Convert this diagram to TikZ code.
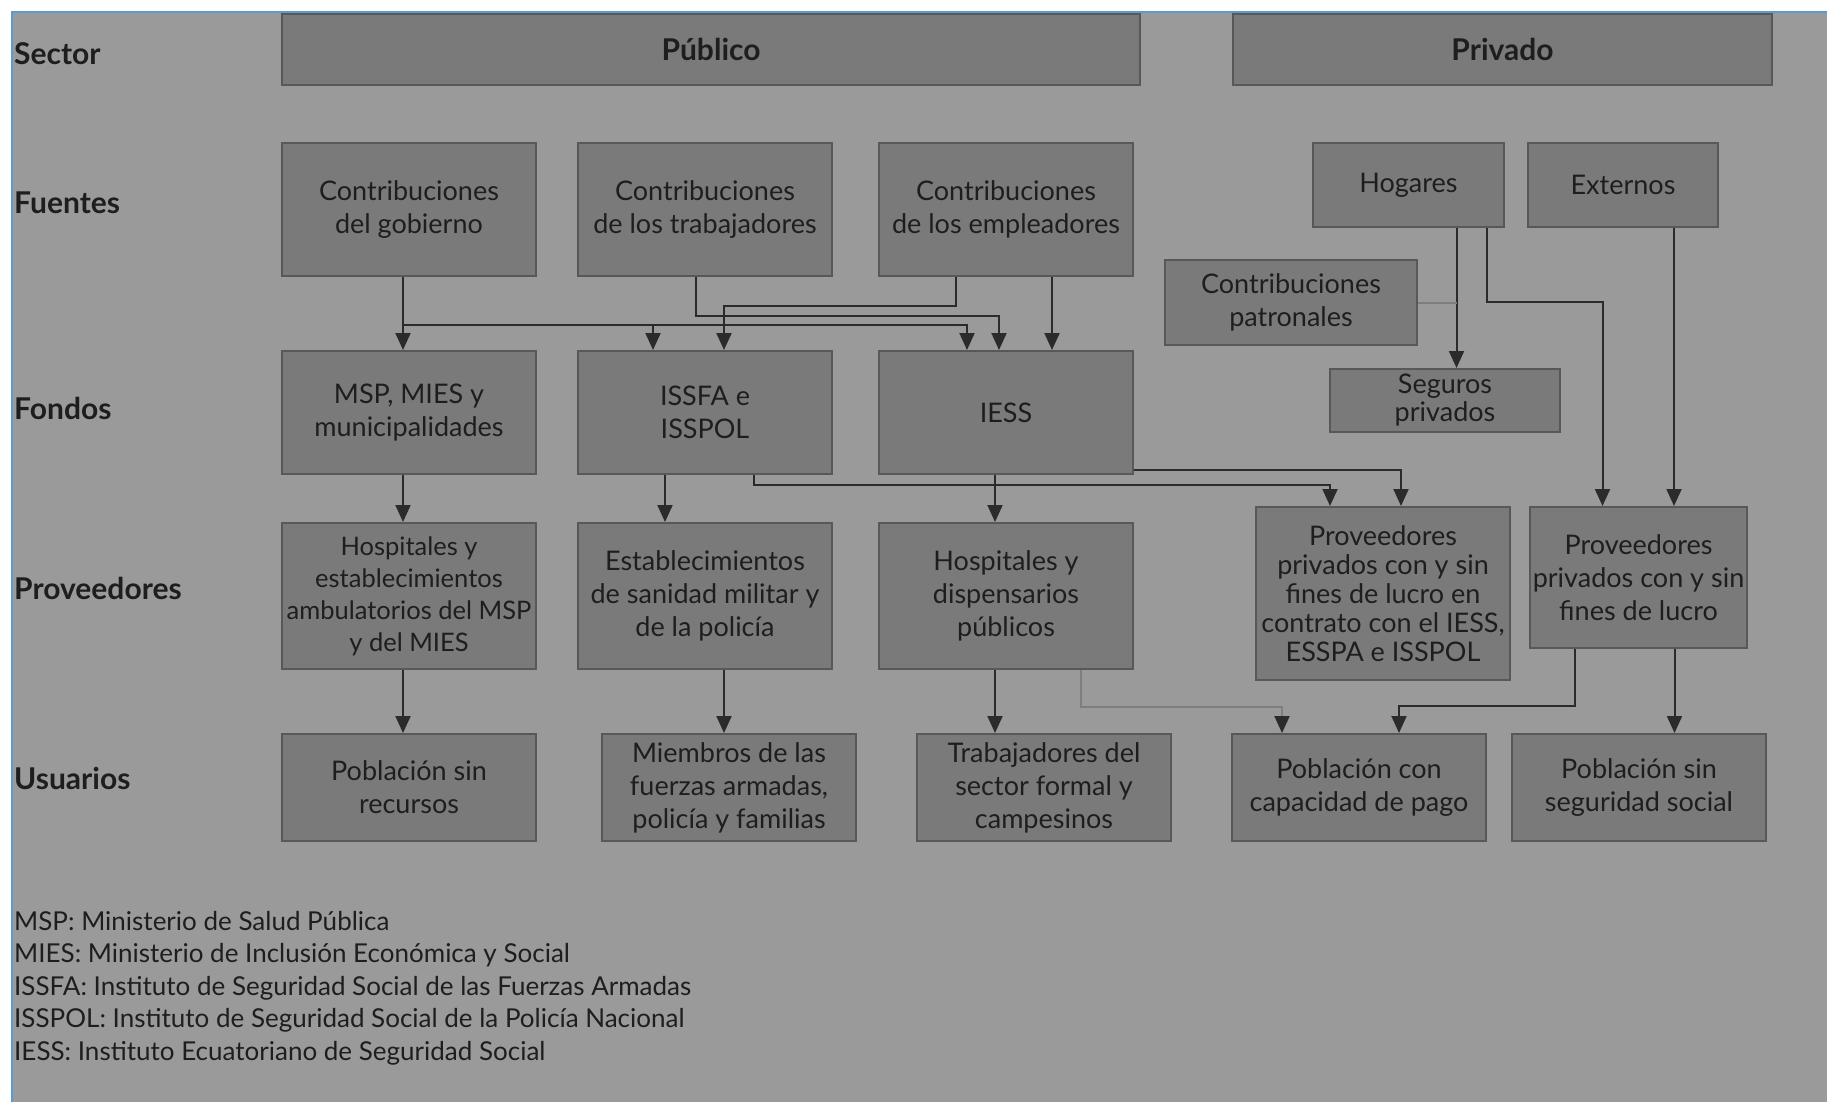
\documentclass[tikz,border=0pt]{standalone}
\usepackage{fontspec}
\setmainfont{Lato}
\usepackage{color}
\usetikzlibrary{positioning}
\usetikzlibrary{arrows.meta}

\definecolor{fondo}{HTML}{9A9A9A}
\definecolor{relleno}{HTML}{7A7A7A}
\definecolor{borde}{HTML}{585858}
\definecolor{texto}{HTML}{1E1E1E}
\definecolor{linea}{HTML}{2B2B2B}
\definecolor{tenue}{HTML}{7E7E7E}
\definecolor{azul}{HTML}{5B9BD5}

\begin{document}
\begin{tikzpicture}
			[x=1pt,y=-1pt,
			 every node/.style={text=texto,font=\fontsize{27}{33}\selectfont},
			 caja/.style={draw=borde,fill=relleno,line width=2pt,align=center,inner sep=2pt,minimum width=254pt},
			 fila/.style={anchor=west,inner sep=0pt,font=\fontsize{30}{33}\selectfont\bfseries},
			 titulo/.style={font=\fontsize{30}{33}\selectfont\bfseries},
			 flecha/.style={draw=linea,line width=2pt,-{Triangle[length=17pt,width=15pt]}},
			 debil/.style={draw=tenue,line width=2pt,-{Triangle[length=17pt,width=15pt,color=linea]}}]
			\useasboundingbox (0,0) rectangle (1827,1102);
			\fill[white] (0,0) rectangle (1827,1102);
			\fill[fondo] (12,12) rectangle (1827,1102);
			\draw[azul,line width=2.5pt] (12,1102) -- (12,12) -- (1827,12);

			\node (lsec) [fila] at (14,54) {Sector};
			\node (lfue) [fila] at (14,203) {Fuentes};
			\node (lfon) [fila] at (14,408) {Fondos};
			\node (lpro) [fila] at (14,588) {Proveedores};
			\node (lusu) [fila] at (14,778) {Usuarios};

			\node (pub) [caja,titulo,minimum width=858pt,minimum height=71pt] at (711,49.5) {Público};
			\node (priv) [caja,titulo,minimum width=539pt,minimum height=71pt,right=91pt of pub] {Privado};

			\node (gob) [caja,minimum height=133pt] at (409,209.5) {Contribuciones\\del gobierno};
			\node (trab) [caja,minimum height=133pt,right=40pt of gob] {Contribuciones\\de los trabajadores};
			\node (empl) [caja,minimum height=133pt,right=45pt of trab] {Contribuciones\\de los empleadores};
			\node (hog) [caja,minimum width=191pt,minimum height=84pt] at (1408.5,185) {Hogares};
			\node (ext) [caja,minimum width=190pt,minimum height=84pt,right=22pt of hog] {Externos};
			\node (patr) [caja,minimum width=252pt,minimum height=85pt] at (1291,302.5) {Contribuciones\\patronales};
			\node (seg) [caja,minimum width=230pt,minimum height=63pt,font=\fontsize{27}{28}\selectfont] at (1445,400.5) {Seguros\\privados};

			\node (msp) [caja,minimum height=123pt,below=73pt of gob] {MSP, MIES y\\municipalidades};
			\node (issfa) [caja,minimum height=123pt,below=73pt of trab] {ISSFA e\\ISSPOL};
			\node (iess) [caja,minimum height=123pt,below=73pt of empl] {IESS};

			\node (hospm) [caja,minimum height=146pt,below=47pt of msp,font=\fontsize{25.5}{32}\selectfont] {Hospitales y\\establecimientos\\ambulatorios del MSP\\y del MIES};
			\node (estab) [caja,minimum height=146pt,below=47pt of issfa] {Establecimientos\\de sanidad militar y\\de la policía};
			\node (hospd) [caja,minimum height=146pt,below=47pt of iess] {Hospitales y\\dispensarios\\públicos};
			\node (provc) [caja,minimum height=173pt,font=\fontsize{27}{29}\selectfont] at (1383,593.5) {Proveedores\\privados con y sin\\fines de lucro en\\contrato con el IESS,\\ESSPA e ISSPOL};
			\node (provp) [caja,minimum width=217pt,minimum height=141pt] at (1638.5,577.5) {Proveedores\\privados con y sin\\fines de lucro};

			\node (pobr) [caja,minimum height=107pt,below=63pt of hospm] {Población sin\\recursos};
			\node (miem) [caja,minimum height=107pt,right=64pt of pobr] {Miembros de las\\fuerzas armadas,\\policía y familias};
			\node (trabf) [caja,minimum height=107pt,right=59pt of miem] {Trabajadores del\\sector formal y\\campesinos};
			\node (pobc) [caja,minimum height=107pt,right=59pt of trabf] {Población con\\capacidad de pago};
			\node (pobs) [caja,minimum height=107pt,right=24pt of pobc] {Población sin\\seguridad social};

			\node (leyenda) [anchor=base west,align=left,inner sep=0pt,font=\fontsize{26}{32.5}\selectfont] at (14,1060) {MSP: Ministerio de Salud Pública\\MIES: Ministerio de Inclusión Económica y Social\\ISSFA: Instituto de Seguridad Social de las Fuerzas Armadas\\ISSPOL: Instituto de Seguridad Social de la Policía Nacional\\IESS: Instituto Ecuatoriano de Seguridad Social};

			\coordinate (hogseg) at ([xshift=48pt]hog.south);

			\draw[flecha] ([xshift=-6pt]gob.south) -- ([xshift=-6pt]gob.south |- msp.north);
			\draw[flecha] ([xshift=-6pt]gob.south) -- ++(0,48) -| ([xshift=-52pt]issfa.north);
			\draw[flecha] ([xshift=-6pt]gob.south) -- ++(0,48) -| ([xshift=-39pt]iess.north);
			\draw[flecha] ([xshift=-9pt]trab.south) -- ++(0,39) -| ([xshift=-7pt]iess.north);
			\draw[flecha] ([xshift=-50pt]empl.south) -- ++(0,29) -| ([xshift=19pt]issfa.north);
			\draw[flecha] ([xshift=46pt]empl.south) -- ([xshift=46pt]empl.south |- iess.north);

			\draw[flecha] (hogseg) -- (hogseg |- seg.north);
			\draw[debil,-] (patr.east) -- (patr.east -| hogseg);
			\draw[flecha] ([xshift=78pt]hog.south) -- ++(0,74) -| ([xshift=-36pt]provp.north);
			\draw[flecha] ([xshift=51pt]ext.south) -- ([xshift=51pt]ext.south |- provp.north);

			\draw[flecha] ([xshift=-6pt]msp.south) -- ([xshift=-6pt]msp.south |- hospm.north);
			\draw[flecha] ([xshift=-40pt]issfa.south) -- ([xshift=-40pt]issfa.south |- estab.north);
			\draw[flecha] ([xshift=49pt]issfa.south) -- ++(0,10) -| ([xshift=-53pt]provc.north);
			\draw[flecha] ([xshift=-11pt]iess.south) -- ([xshift=-11pt]iess.south |- hospd.north);
			\draw[flecha] ([yshift=-57pt]iess.east) -| ([xshift=18pt]provc.north);

			\draw[flecha] ([xshift=-6pt]hospm.south) -- ([xshift=-6pt]hospm.south |- pobr.north);
			\draw[flecha] ([xshift=19pt]estab.south) -- ([xshift=19pt]estab.south |- miem.north);
			\draw[flecha] ([xshift=-11pt]hospd.south) -- ([xshift=-11pt]hospd.south |- trabf.north);
			\draw[debil] ([xshift=75pt]hospd.south) -- ++(0,37) -| ([xshift=-77pt]pobc.north);
			\draw[flecha] ([xshift=-64pt]provp.south) -- ++(0,57) -| ([xshift=40pt]pobc.north);
			\draw[flecha] ([xshift=36pt]provp.south) -- ([xshift=36pt]provp.south |- pobs.north);
		\end{tikzpicture}
\end{document}
